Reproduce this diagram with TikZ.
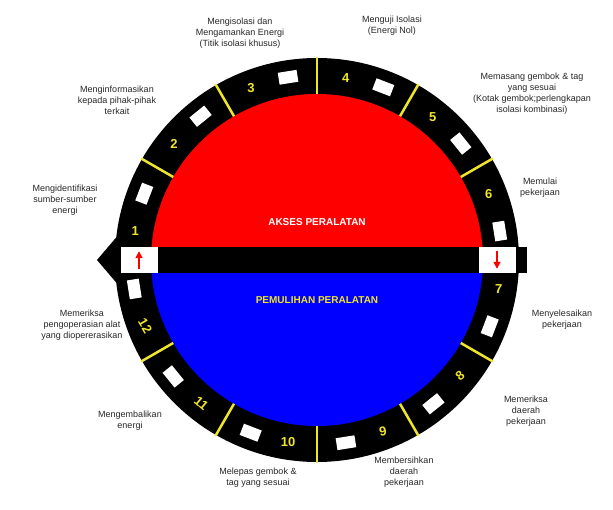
\documentclass[tikz,border=0pt]{standalone}
\usepackage{fontspec}
\setmainfont{Liberation Sans}
\usetikzlibrary{arrows.meta,calc}
\definecolor{yel}{RGB}{240,230,40}
\begin{document}
\begin{tikzpicture}[x=1pt,y=-1pt,
  lbl/.style={align=center,font=\fontsize{9}{11}\selectfont,text=black!85},
  num/.style={font=\bfseries\fontsize{13}{13}\selectfont,text=yel},
  wbox/.style={fill=white,minimum width=19pt,minimum height=12pt,inner sep=0pt},
  div/.style={draw=yel,line width=2.5pt}]
\useasboundingbox (0,0) rectangle (613,510);
\coordinate (c) at (317,260);
\fill[black] (c) circle[radius=202];
\fill[red] (c) ++(166,0) arc[start angle=0,end angle=-180,radius=166] -- cycle;
\fill[blue] (c) ++(166,0) arc[start angle=0,end angle=180,radius=166] -- cycle;
\foreach \a in {30,60,90,120,150,210,240,270,300,330}
  \draw[div] (c) ++(-\a:166) -- ++(-\a:37);
% bar
\fill[black] (120,247) rectangle (527,273);
\fill[black] (97,260) -- (120,233) -- (120,287) -- cycle;
\node[fill=white,minimum width=37pt,minimum height=26pt,inner sep=0pt] (lb) at (139,260) {};
\node[fill=white,minimum width=37pt,minimum height=26pt,inner sep=0pt] (rb) at (497,260) {};
\draw[red,line width=1.6pt,-{Triangle[length=7pt,width=7pt]}] (lb.south) ++(0,-4) -- ++(0,-18);
\draw[red,line width=1.6pt,-{Triangle[length=7pt,width=7pt]}] (rb.north) ++(0,4) -- ++(0,18);
% segments
\foreach \n/\a in {1/150,2/120,3/90,4/60,5/30,6/0}{
  \node[num] (n\n) at ($(c)+(-\a-21:184)$) {\n};
  \node[wbox,rotate=\a+9-90] (b\n) at ($(c)+(-\a-9:185)$) {};
}
\foreach \n/\a/\r in {7/330/0,8/300/40,9/270/10,10/240/0,11/210/-40,12/180/-60}{
  \node[num,rotate=\r] (n\n) at ($(c)+(-\a-21:184)$) {\n};
  \node[wbox,rotate=\a+9+90] (b\n) at ($(c)+(-\a-9:185)$) {};
}
\node[font=\bfseries\fontsize{10}{12}\selectfont,text=white] (t1) at (317,222) {AKSES PERALATAN};
\node[font=\bfseries\fontsize{10}{12}\selectfont,text=yel] (t2) at (317,300) {PEMULIHAN PERALATAN};
% labels
\node[lbl] (l1) at (65,200) {Mengidentifikasi\\sumber-sumber\\energi};
\node[lbl] (l2) at (117,100) {Menginformasikan\\kepada pihak-pihak\\terkait};
\node[lbl] (l3) at (240,33) {Mengisolasi dan\\Mengamankan Energi\\(Titik isolasi khusus)};
\node[lbl] (l4) at (392,26) {Menguji Isolasi\\(Energi Nol)};
\node[lbl] (l5) at (532,94) {Memasang gembok \& tag\\yang sesuai\\(Kotak gembok;perlengkapan\\isolasi kombinasi)};
\node[lbl] (l6) at (540,188) {Memulai\\pekerjaan};
\node[lbl] (l7) at (562,320) {Menyelesaikan\\pekerjaan};
\node[lbl] (l8) at (526,411) {Memeriksa\\daerah\\pekerjaan};
\node[lbl] (l9) at (404,472) {Membersihkan\\daerah\\pekerjaan};
\node[lbl] (l10) at (258,478) {Melepas gembok \&\\tag yang sesuai};
\node[lbl] (l11) at (130,421) {Mengembalikan\\energi};
\node[lbl] (l12) at (82,325) {Memeriksa\\pengoperasian alat\\yang diopererasikan};
\end{tikzpicture}
\end{document}
